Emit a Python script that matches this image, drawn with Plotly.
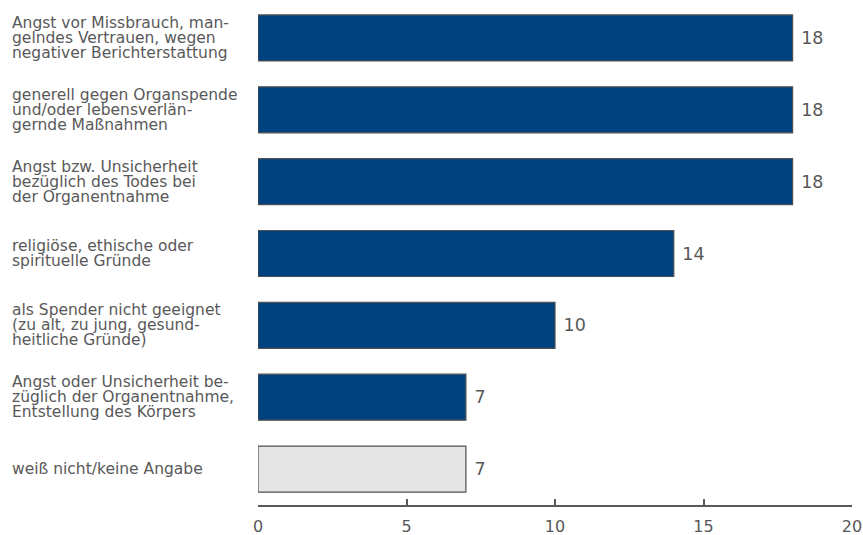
import plotly.graph_objects as go

categories = [
    "Angst vor Missbrauch, man-<br>gelndes Vertrauen, wegen<br>negativer Berichterstattung",
    "generell gegen Organspende<br>und/oder lebensverlän-<br>gernde Maßnahmen",
    "Angst bzw. Unsicherheit<br>bezüglich des Todes bei<br>der Organentnahme",
    "religiöse, ethische oder<br>spirituelle Gründe",
    "als Spender nicht geeignet<br>(zu alt, zu jung, gesund-<br>heitliche Gründe)",
    "Angst oder Unsicherheit be-<br>züglich der Organentnahme,<br>Entstellung des Körpers",
    "weiß nicht/keine Angabe",
]
values = [18, 18, 18, 14, 10, 7, 7]
bar_colors = ["#00417f"] * 6 + ["#e5e5e5"]
x_ticks = [0, 5, 10, 15, 20]

FONT = "Verdana, DejaVu Sans, sans-serif"
GRAY = "#595959"
LINE_H = 15

fig = go.Figure(go.Bar(
    x=values, y=categories, orientation="h",
    marker=dict(color=bar_colors, line=dict(color="#505050", width=1.2)),
    text=[" " + str(v) for v in values], textposition="outside",
    textfont=dict(family=FONT, size=17.5, color=GRAY),
    cliponaxis=False,
))

for c in categories:
    lines = c.split("<br>")
    n = len(lines)
    for j, ln in enumerate(lines):
        fig.add_annotation(
            x=0, y=c, xref="paper", yref="y", text=ln, showarrow=False,
            xanchor="left", yanchor="middle", align="left", xshift=-248,
            yshift=((n - 1) / 2 - j) * LINE_H,
            font=dict(family=FONT, size=15.5, color=GRAY),
        )

fig.update_layout(
    width=863, height=535,
    margin=dict(l=258, r=11, t=2, b=30),
    plot_bgcolor="white", paper_bgcolor="white",
    bargap=0.36, showlegend=False,
    xaxis=dict(range=[0, 20], tickvals=x_ticks, ticks="inside", ticklen=6,
               tickwidth=1.5, tickcolor=GRAY, showline=True, linecolor=GRAY,
               linewidth=2, showgrid=False, zeroline=False,
               ticklabelstandoff=6, automargin=False,
               tickfont=dict(family=FONT, size=16, color=GRAY)),
    yaxis=dict(autorange="reversed", showticklabels=False, showgrid=False,
               zeroline=False, showline=False, automargin=False),
)

fig.write_html("out.html", config={"displayModeBar": False},
               post_script="document.body.style.margin='0';")
